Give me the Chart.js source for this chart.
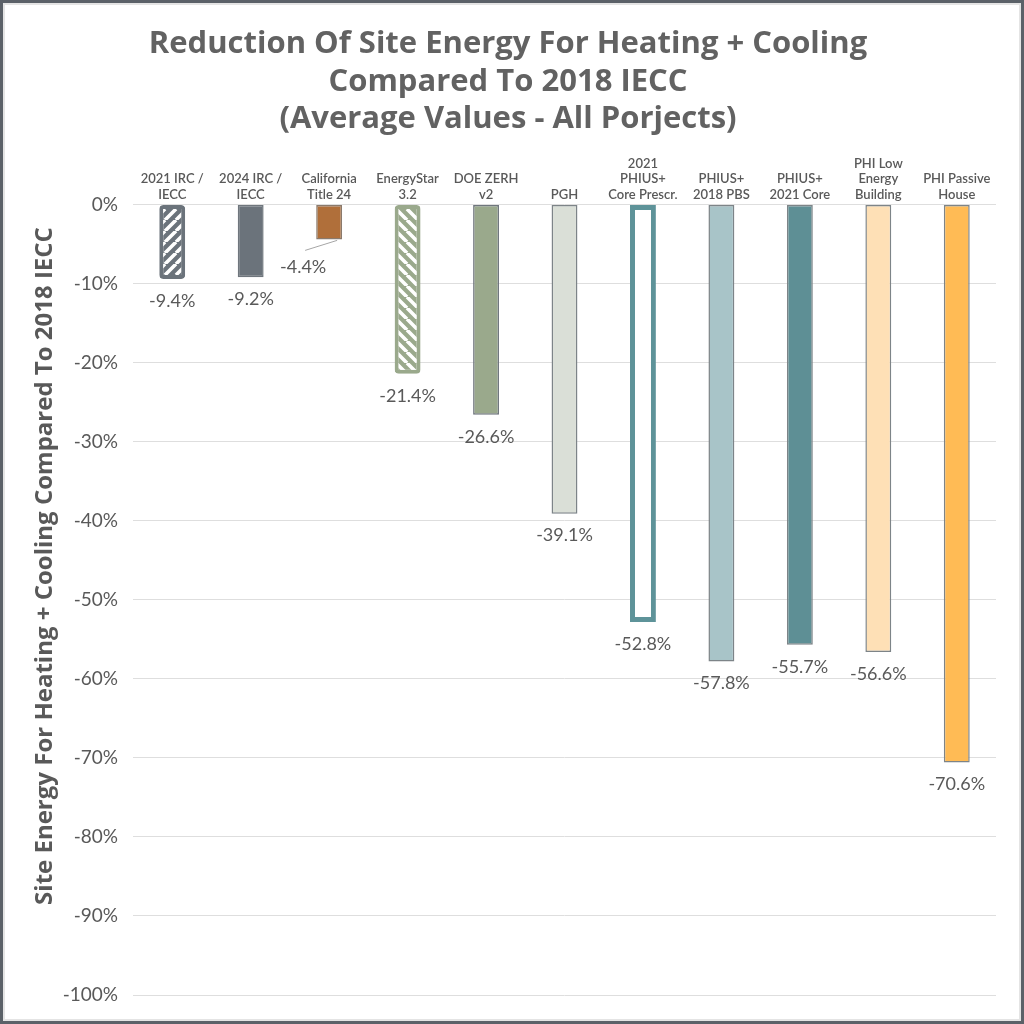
<!DOCTYPE html>
<html>
<head>
<meta charset="utf-8">
<script src="https://cdn.jsdelivr.net/npm/chart.js@4.4.1/dist/chart.umd.min.js"></script>
<style>
  html, body { margin: 0; padding: 0; background: #fff; }
  #wrap { position: relative; width: 1024px; height: 1024px; }
  #frame {
    position: absolute; left: 0; top: 0; width: 1024px; height: 1024px;
    box-sizing: border-box; border: 3px solid #5b6168;
    box-shadow: inset 0 0 0 2px #e4e4e4; pointer-events: none;
  }
</style>
</head>
<body>
<div id="wrap">
  <canvas id="grafico" width="1024" height="1024"></canvas>
  <div id="frame"></div>
</div>
<script>
const categorias = [
    ['2021 IRC /', 'IECC'],
    ['2024 IRC /', 'IECC'],
    ['California', 'Title 24'],
    ['EnergyStar', '3.2'],
    ['DOE ZERH', 'v2'],
    'PGH',
    ['2021', 'PHIUS+', 'Core Prescr.'],
    ['PHIUS+', '2018 PBS'],
    ['PHIUS+', '2021 Core'],
    ['PHI Low', 'Energy', 'Building'],
    ['PHI Passive', 'House']
];
const valores = [-9.4, -9.2, -4.4, -21.4, -26.6, -39.1, -52.8, -57.8, -55.7, -56.6, -70.6];
const ticksY = [0, -10, -20, -30, -40, -50, -60, -70, -80, -90, -100];

const gris = '#595959';
const fuente = "Lato, 'Open Sans', sans-serif";
const fuenteTitulo = "'Open Sans', Lato, sans-serif";

// rayado diagonal para las barras "prescriptivas"
function rayado(color, sentido) {
    const t = 11;
    const c = document.createElement('canvas');
    c.width = t; c.height = t;
    const g = c.getContext('2d');
    g.fillStyle = color;
    g.fillRect(0, 0, t, t);
    g.strokeStyle = '#ffffff';
    g.lineWidth = 3.6;
    g.beginPath();
    for (let k = -1; k <= 1; k++) {
        if (sentido > 0) {
            g.moveTo(k * t, t); g.lineTo(k * t + t, 0);
        } else {
            g.moveTo(k * t, 0); g.lineTo(k * t + t, t);
        }
    }
    g.stroke();
    return g.createPattern(c, 'repeat');
}

const ctx = document.getElementById('grafico').getContext('2d');

const rellenos = [
    rayado('#6b737b', 1), '#6b737b', '#b06f3a', rayado('#9aa98c', -1), '#9aa98c',
    '#dadfd7', '#ffffff', '#a8c4c8', '#5e8f95', '#fee0b6', '#ffbb55'
];
const bordes = [
    '#6b737b', '#6f767d', '#8a7a6c', '#9aa98c', '#6f767d',
    '#7d8488', '#5e9399', '#7d8488', '#7d8488', '#7d8488', '#7d8488'
];
const anchosBorde = [4, 1.5, 1.5, 4, 1.5, 1.5, 5, 1.5, 1.5, 1.5, 1.5];

// etiquetas de valor bajo cada barra
const etiquetas = {
    id: 'etiquetas',
    afterDatasetsDraw(chart) {
        const c = chart.ctx;
        const barras = chart.getDatasetMeta(0).data;
        c.save();
        c.font = '18px ' + fuente;
        c.fillStyle = gris;
        c.textAlign = 'center';
        c.textBaseline = 'middle';
        barras.forEach((b, i) => {
            const txt = valores[i].toFixed(1) + '%';
            if (i === 2) {
                c.strokeStyle = '#a6a6a6';
                c.lineWidth = 1;
                c.beginPath();
                c.moveTo(b.x + 8, b.y + 1);
                c.lineTo(b.x - 24, b.y + 11);
                c.stroke();
                c.fillText(txt, b.x - 26, b.y + 28);
            } else {
                c.fillText(txt, b.x, b.y + 22);
            }
        });
        c.restore();
    }
};

// titulo del eje Y
const tituloY = {
    id: 'tituloY',
    afterDraw(chart) {
        const c = chart.ctx;
        c.save();
        c.translate(45, 566);
        c.rotate(-Math.PI / 2);
        c.font = 'bold 24px ' + fuenteTitulo;
        c.fillStyle = gris;
        c.textAlign = 'center';
        c.textBaseline = 'middle';
        c.fillText('Site Energy For Heating + Cooling Compared To 2018 IECC', 0, 0);
        c.restore();
    }
};

const chart = new Chart(ctx, {
    type: 'bar',
    data: {
        labels: categorias,
        datasets: [{
            label: 'Reducción',
            data: valores,
            backgroundColor: rellenos,
            borderColor: bordes,
            borderWidth: anchosBorde,
            borderRadius: [4, 0, 0, 4, 0, 0, 0, 0, 0, 0, 0],
            borderSkipped: false,
            barPercentage: 0.33,
            categoryPercentage: 1
        }]
    },
    options: {
        responsive: false,
        animation: false,
        layout: { padding: { left: 20, right: 28, bottom: 29, top: 0 } },
        plugins: {
            legend: { display: false },
            tooltip: { enabled: false },
            title: {
                display: true,
                text: ['Reduction Of Site Energy For Heating + Cooling', 'Compared To 2018 IECC', '(Average Values - All Porjects)'],
                color: '#626262',
                font: { family: fuenteTitulo, size: 31, weight: 'bold', lineHeight: 1.2 },
                padding: { top: 26, bottom: 9 }
            }
        },
        scales: {
            x: {
                position: 'top',
                grid: { display: false },
                border: { display: false },
                ticks: {
                    color: gris,
                    padding: -6,
                    maxRotation: 0,
                    autoSkip: false,
                    font: { family: fuente, size: 13, weight: '600', lineHeight: 1.2 }
                },
                afterFit(s) { s.height = 58; }
            },
            y: {
                min: -100,
                max: 0,
                afterBuildTicks(s) { s.ticks = ticksY.map(v => ({ value: v })); },
                grid: { color: '#dedede', drawTicks: false },
                border: { display: false },
                ticks: {
                    color: gris,
                    padding: 15,
                    font: { family: fuente, size: 19 },
                    callback: v => v + '%'
                },
                afterFit(s) { s.width = 113; }
            }
        }
    },
    plugins: [etiquetas, tituloY]
});
</script>
</body>
</html>
